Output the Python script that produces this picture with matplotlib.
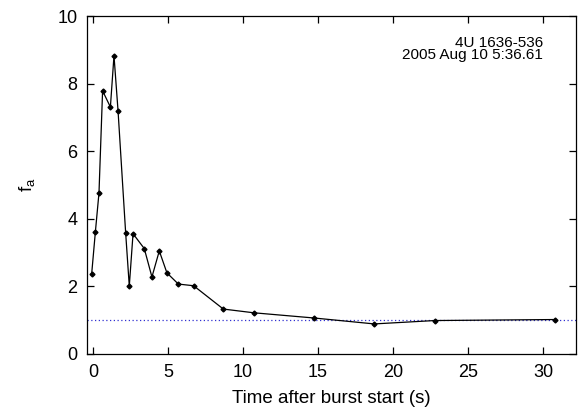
import matplotlib.pyplot as plt

# datos
t = [-0.09, 0.16, 0.40, 0.64, 1.16, 1.40, 1.67, 2.18, 2.42, 2.67, 3.42, 3.93,
     4.42, 4.93, 5.69, 6.71, 8.69, 10.71, 14.75, 18.75, 22.78, 30.8]
fa = [2.36, 3.62, 4.77, 7.79, 7.31, 8.83, 7.20, 3.57, 2.01, 3.56, 3.12, 2.28,
      3.05, 2.40, 2.07, 2.02, 1.33, 1.22, 1.065, 0.89, 0.99, 1.02]
xticks = [0, 5, 10, 15, 20, 25, 30]
yticks = [0, 2, 4, 6, 8, 10]
fuente = "4U 1636-536\n2005 Aug 10 5:36.61"

plt.rcParams['font.family'] = ['Liberation Sans', 'DejaVu Sans']

fig = plt.figure(figsize=(5.78, 4.12), dpi=100)
ax = fig.add_axes([0.1505, 0.1408, 0.846, 0.820])

ax.axhline(1.0, color='#3030d0', ls=(0, (1, 2)), lw=0.9)
ax.plot(t, fa, '-', color='black', lw=0.9, marker='D', ms=2.5)

ax.set_xlim(-0.4, 32.2)
ax.set_ylim(0, 10)
ax.set_xticks(xticks)
ax.set_yticks(yticks)
ax.tick_params(direction='in', length=5, width=0.9, top=True, right=True,
               labelsize=13, pad=7)
for s in ax.spines.values():
    s.set_linewidth(0.9)

ax.set_xlabel("Time after burst start (s)", fontsize=13.5, labelpad=7)
ax.set_ylabel("f$_\\mathregular{a}$", fontsize=13.5, labelpad=14)

ax.text(0.9325, 0.94, fuente, transform=ax.transAxes, ha='right', va='top',
        fontsize=11, linespacing=0.8)

fig.savefig("out.png", dpi=100)
